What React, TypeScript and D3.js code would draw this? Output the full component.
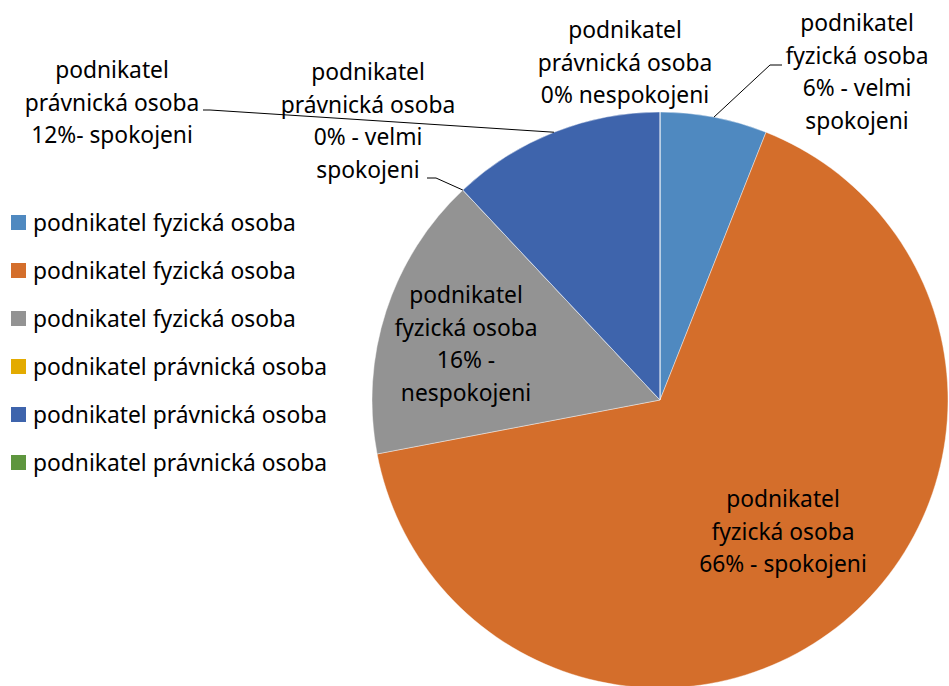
import * as d3 from "d3";

const width = 949;
const height = 686;

const categories = [
  "podnikatel fyzická osoba",
  "podnikatel fyzická osoba",
  "podnikatel fyzická osoba",
  "podnikatel právnická osoba",
  "podnikatel právnická osoba",
  "podnikatel právnická osoba",
];
const values = [6, 66, 16, 0, 12, 0];
const colors = ["#4F89C0", "#D46E2B", "#939393", "#E3AB00", "#3E64AC", "#5E963E"];
const labelText = [
  ["podnikatel", "fyzická osoba", "6% - velmi", "spokojeni"],
  ["podnikatel", "fyzická osoba", "66% - spokojeni"],
  ["podnikatel", "fyzická osoba", "16% -", "nespokojeni"],
  ["podnikatel", "právnická osoba", "0% - velmi", "spokojeni"],
  ["podnikatel", "právnická osoba", "12%- spokojeni"],
  ["podnikatel", "právnická osoba", "0% nespokojeni"],
];

// where each data label sits (centre x, first baseline) and where its leader starts
const labelLayout = [
  { x: 857, y: 31, leader: [782, 65, 770] },
  { x: 783, y: 507, leader: null },
  { x: 466, y: 303, leader: null },
  { x: 368, y: 80, leader: [427, 178, 436] },
  { x: 112, y: 78, leader: [203, 110, 210] },
  { x: 625, y: 38, leader: null },
];

const cx = 660;
const cy = 400;
const radius = 288;
const lineHeight = 32.5;
const fontSize = 22.8;
const font = "'Noto Sans', 'Open Sans', sans-serif";

export default function App() {
  const pie = d3
    .pie<number>()
    .sort(null)
    .value((d) => d);
  const arcs = pie(values);
  const arc = d3
    .arc<d3.PieArcDatum<number>>()
    .innerRadius(0)
    .outerRadius(radius);

  const edgePoint = (a: d3.PieArcDatum<number>) => {
    const mid = (a.startAngle + a.endAngle) / 2;
    return [cx + radius * Math.sin(mid), cy - radius * Math.cos(mid)];
  };

  const legendY = d3
    .scalePoint<number>()
    .domain(d3.range(categories.length))
    .range([222.5, 462.5]);

  return (
    <div style={{ position: "absolute", left: 0, top: 0 }}>
      <svg width={width} height={height} style={{ display: "block", fontFamily: font }}>
        <rect width={width} height={height} fill="#fff" />
        <g transform={`translate(${cx},${cy})`}>
          {arcs.map((a, i) => (
            <path
              key={i}
              d={arc(a) ?? ""}
              fill={colors[i]}
              stroke="#fff"
              strokeWidth={0.6}
              strokeOpacity={0.7}
            />
          ))}
        </g>

        {/* leader lines */}
        {arcs.map((a, i) => {
          const l = labelLayout[i].leader;
          if (!l) return null;
          const [ex, ey] = edgePoint(a);
          return (
            <polyline
              key={`ld${i}`}
              points={`${l[0]},${l[1]} ${l[2]},${l[1]} ${ex},${ey}`}
              fill="none"
              stroke="#000"
              strokeWidth={1}
            />
          );
        })}

        {/* data labels */}
        {labelText.map((lines, i) => (
          <text
            key={`lb${i}`}
            x={labelLayout[i].x}
            y={labelLayout[i].y}
            textAnchor="middle"
            fontSize={fontSize}
            fill="#000"
          >
            {lines.map((t, j) => (
              <tspan key={j} x={labelLayout[i].x} y={labelLayout[i].y + j * lineHeight}>
                {t}
              </tspan>
            ))}
          </text>
        ))}

        {/* legend */}
        {categories.map((c, i) => (
          <g key={`lg${i}`} transform={`translate(11,${legendY(i)})`}>
            <rect x={0} y={-7.5} width={15} height={15} fill={colors[i]} />
            <text x={22} y={8.5} fontSize={fontSize} fill="#000">
              {c}
            </text>
          </g>
        ))}
      </svg>
    </div>
  );
}
